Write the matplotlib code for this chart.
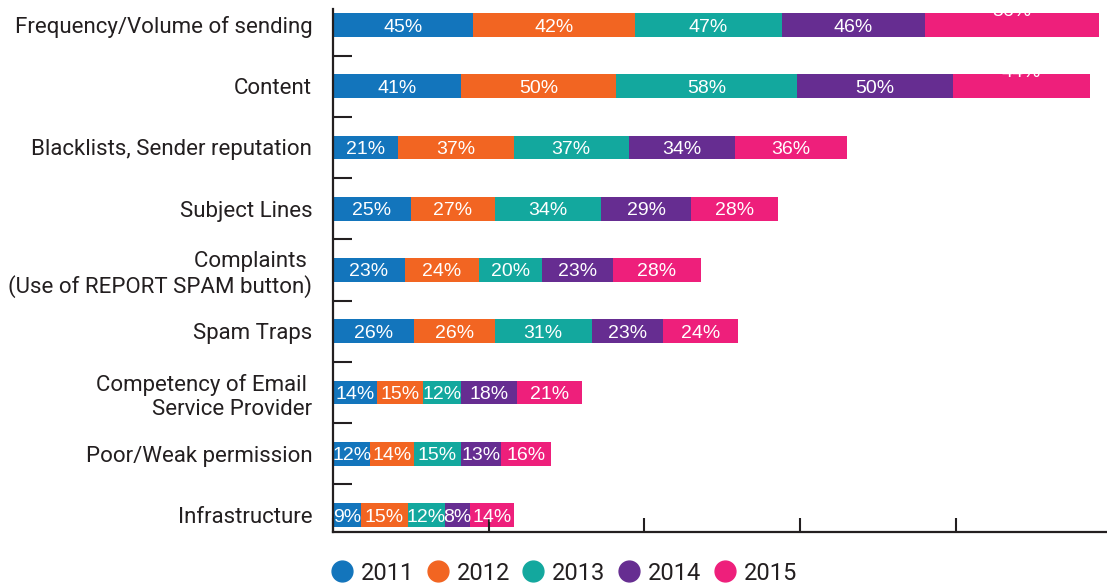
import matplotlib
matplotlib.use("Agg")
import matplotlib.pyplot as plt
from matplotlib.lines import Line2D
import numpy as np

categories = [
    "Frequency/Volume of sending",
    "Content",
    "Blacklists, Sender reputation",
    "Subject Lines",
    "Complaints \n(Use of REPORT SPAM button)",
    "Spam Traps",
    "Competency of Email \nService Provider",
    "Poor/Weak permission",
    "Infrastructure",
]
years = ["2011", "2012", "2013", "2014", "2015"]

# segment widths as drawn in the picture
v2011 = [45, 41, 21, 25, 23, 26, 14, 12, 9]
v2012 = [52, 50, 37, 27, 24, 26, 15, 14, 15]
v2013 = [47, 58, 37, 34, 20, 31, 12, 15, 12]
v2014 = [46, 50, 34, 29, 23, 23, 18, 13, 8]
v2015 = [56, 44, 36, 28, 28, 24, 21, 16, 14]
series = [v2011, v2012, v2013, v2014, v2015]

# the original prints 42% on the first orange segment
label_override = {(0, 1): "42%"}
# 2015 labels of the two longest bars sit above the bar
raised = {(0, 4), (1, 4)}

colors = ["#1375BC", "#F26522", "#13A89E", "#662D91", "#EE1F7B"]
dark = "#231F20"

fig = plt.figure(figsize=(11.07, 5.87), dpi=100)
ax = fig.add_axes([333 / 1107, 1 - 532 / 587, 1 - 333 / 1107, (532 - 9) / 587])

y = np.arange(len(categories))
left = np.zeros(len(categories))
for j, vals in enumerate(series):
    bars = ax.barh(y, vals, left=left, height=0.39, color=colors[j], linewidth=0)
    for i, (b, v) in enumerate(zip(bars, vals)):
        txt = label_override.get((i, j), f"{v}%")
        dy = 11.5 if (i, j) in raised else 0
        ax.annotate(txt, (b.get_x() + b.get_width() / 2, b.get_y() + b.get_height() / 2),
                    xytext=(0, dy), textcoords="offset points",
                    ha="center", va="center_baseline", color="white", fontsize=14,
                    family="Liberation Sans", annotation_clip=False)
    left += np.array(vals)

ax.set_xlim(0, 248.5)
ax.set_ylim(8 + 17 / 61.25, -16 / 61.25)

ax.spines["top"].set_visible(False)
ax.spines["right"].set_visible(False)
for s in ("left", "bottom"):
    ax.spines[s].set_color(dark)
    ax.spines[s].set_linewidth(1.6)

ax.set_xticks([0, 50, 100, 150, 200])
ax.set_xticklabels([])
ax.tick_params(axis="x", direction="in", length=10, width=1.5, color=dark)

ax.set_yticks(y)
ax.set_yticklabels(categories, family="Roboto", fontsize=16, color=dark)
ax.tick_params(axis="y", which="major", length=0, pad=15)
ax.set_yticks(y[:-1] + 0.5, minor=True)
ax.tick_params(axis="y", which="minor", direction="in", length=14, width=1.5, color=dark)

handles = [Line2D([], [], marker="o", linestyle="none", markersize=15,
                  markerfacecolor=c, markeredgecolor=c) for c in colors]
fig.legend(handles, years, loc="center left", bbox_to_anchor=(330 / 1107, 1 - 573 / 587),
           ncol=5, frameon=False, borderpad=0, borderaxespad=0,
           handlelength=1.0, handletextpad=0.3, columnspacing=0.5,
           prop={"family": "Roboto", "size": 17}, labelcolor=dark)

fig.savefig("out.png", facecolor="white")
